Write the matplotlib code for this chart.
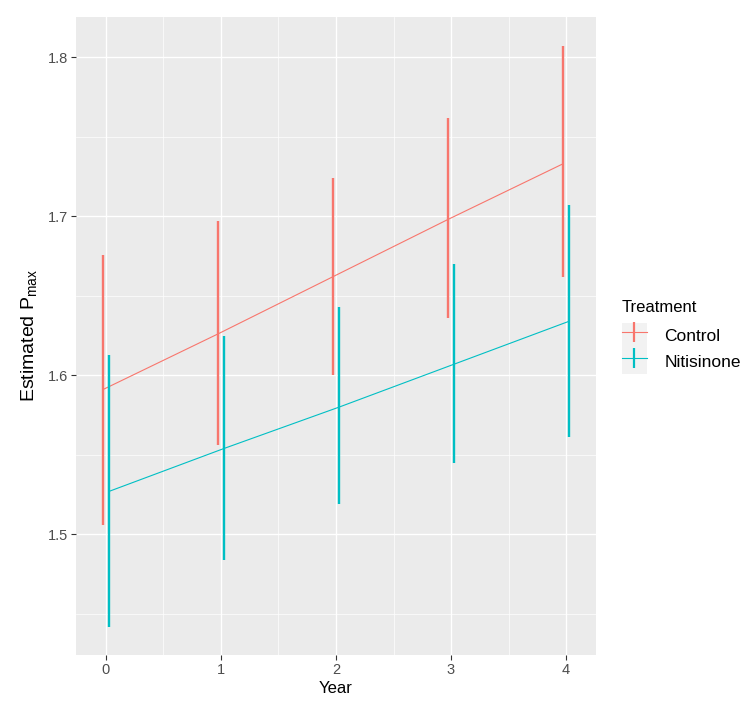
import matplotlib
matplotlib.use("Agg")
import matplotlib.pyplot as plt
from matplotlib.lines import Line2D
from matplotlib.patches import Patch
from matplotlib.legend_handler import HandlerTuple
import numpy as np

plt.rcParams['font.family'] = ['Liberation Sans', 'DejaVu Sans']
plt.rcParams['mathtext.fontset'] = 'custom'
plt.rcParams['mathtext.rm'] = 'Liberation Sans'
plt.rcParams['mathtext.default'] = 'regular'

# data
years = [0, 1, 2, 3, 4]
groups = ['Control', 'Nitisinone']
colors = ['#F8766D', '#00BFC4']

control_fit = [1.591, 1.626, 1.662, 1.698, 1.733]
control_lo = [1.506, 1.556, 1.600, 1.636, 1.662]
control_hi = [1.676, 1.697, 1.724, 1.762, 1.807]

nitis_fit = [1.527, 1.554, 1.580, 1.607, 1.634]
nitis_lo = [1.442, 1.484, 1.519, 1.545, 1.561]
nitis_hi = [1.613, 1.625, 1.643, 1.670, 1.707]

fits = [control_fit, nitis_fit]
lows = [control_lo, nitis_lo]
highs = [control_hi, nitis_hi]
dodge = [-0.028, 0.026]

fig = plt.figure(figsize=(7.5, 7.07), dpi=100)
ax = fig.add_axes([0.1013, 0.074, 0.6934, 0.9015])
ax.set_facecolor('#EBEBEB')
for s in ax.spines.values():
    s.set_visible(False)

# grid
ax.set_xticks([0.5, 1.5, 2.5, 3.5], minor=True)
ax.set_yticks([1.45, 1.55, 1.65, 1.75], minor=True)
ax.grid(True, which='major', color='white', lw=1.0)
ax.grid(True, which='minor', color='white', lw=0.5)
ax.set_axisbelow(True)

x = np.array(years, dtype=float)
handles = []
for i, g in enumerate(groups):
    xs = x + dodge[i]
    ax.plot(xs, fits[i], color=colors[i], lw=0.8, zorder=3)
    ax.vlines(xs, lows[i], highs[i], color=colors[i], lw=1.7, zorder=3)
    h = (Patch(facecolor='#F2F2F2', edgecolor='none'),
         Line2D([], [], color=colors[i], lw=0.8),
         Line2D([], [], color=colors[i], marker='|', markersize=15,
                markeredgewidth=1.6, linestyle='None'))
    handles.append(h)

ax.set_xlim(-0.261, 4.261)
ax.set_ylim(1.4243, 1.8252)
ax.set_xticks(years)
ax.set_xticklabels([str(v) for v in years])
ax.set_yticks([1.5, 1.6, 1.7, 1.8])
ax.set_yticklabels(['1.5', '1.6', '1.7', '1.8'])
ax.tick_params(which='major', length=3.5, width=0.8, color='#333333',
               labelcolor='#4D4D4D', labelsize=10.5, pad=2.5)
ax.tick_params(which='minor', length=0)

ax.set_xlabel('Year', fontsize=12, color='black', labelpad=3)
ax.set_ylabel('Estimated P$_{max}$', fontsize=14, color='black', labelpad=6)

leg = fig.legend(handles, groups,
                 handler_map={tuple: HandlerTuple(ndivide=1, pad=0)},
                 loc='center left', bbox_to_anchor=(0.829, 0.5233),
                 frameon=False, fontsize=12.5, title='Treatment',
                 title_fontsize=12, handlelength=1.45, handleheight=1.9,
                 handletextpad=1.0, labelspacing=0.0, borderpad=0,
                 borderaxespad=0, alignment='left')
# gap between the legend title and the keys
leg._legend_box.sep = 6

fig.savefig('out.png', dpi=100)
